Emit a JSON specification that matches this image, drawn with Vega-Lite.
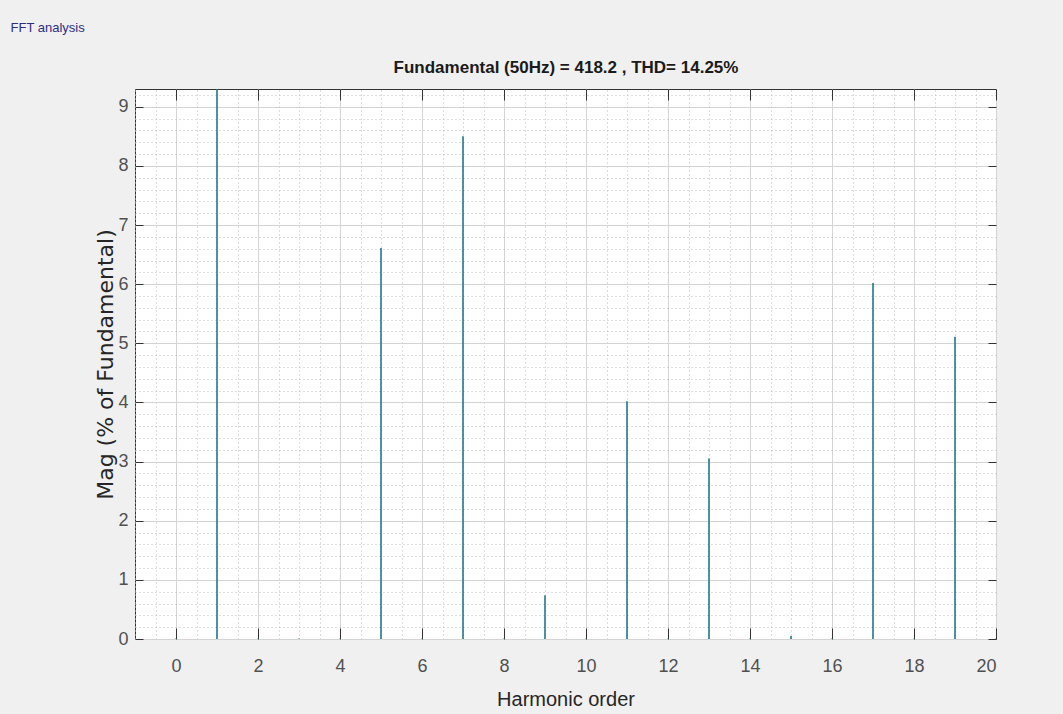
{
  "$schema": "https://vega.github.io/schema/vega-lite/v6.json",
  "width": 861,
  "height": 550,
  "autosize": {"type": "none"},
  "padding": {"left": 135, "top": 89, "right": 67, "bottom": 75},
  "background": "#f0f0f0",
  "config": {
    "view": {"stroke": "#333333", "strokeWidth": 1, "fill": "#ffffff"},
    "axis": {
      "labelFont": "Liberation Sans, Arial",
      "titleFont": "Liberation Sans, Arial",
      "labelColor": "#505050",
      "titleColor": "#262626",
      "titleFontWeight": "normal"
    }
  },
  "data": {
    "values": [
      {"h": 0, "mag": 0.01},
      {"h": 1, "mag": 100},
      {"h": 2, "mag": 0.01},
      {"h": 3, "mag": 0.01},
      {"h": 4, "mag": 0.01},
      {"h": 5, "mag": 6.61},
      {"h": 6, "mag": 0.01},
      {"h": 7, "mag": 8.5},
      {"h": 8, "mag": 0.01},
      {"h": 9, "mag": 0.74},
      {"h": 10, "mag": 0.01},
      {"h": 11, "mag": 4.02},
      {"h": 12, "mag": 0.01},
      {"h": 13, "mag": 3.05},
      {"h": 14, "mag": 0.01},
      {"h": 15, "mag": 0.05},
      {"h": 16, "mag": 0.01},
      {"h": 17, "mag": 6.02},
      {"h": 18, "mag": 0.01},
      {"h": 19, "mag": 5.11},
      {"h": 20, "mag": 0.01}
    ]
  },
  "resolve": {"axis": {"x": "independent", "y": "independent"}},
  "layer": [
    {
      "mark": {"type": "rule", "opacity": 0},
      "encoding": {
        "x": {
          "field": "h", "type": "quantitative",
          "scale": {"domain": [-1, 20], "nice": false, "zero": false},
          "axis": {
            "orient": "top", "values": [-1,-0.5,0,0.5,1,1.5,2,2.5,3,3.5,4,4.5,5,5.5,6,6.5,7,7.5,8,8.5,9,9.5,10,10.5,11,11.5,12,12.5,13,13.5,14,14.5,15,15.5,16,16.5,17,17.5,18,18.5,19,19.5,20],
            "labels": false, "ticks": false, "domain": false,
            "title": "FFT analysis", "titleFontSize": 13, "titleColor": "#2e2e80",
            "titleX": -125, "titleY": -62, "titleAlign": "left", "titleBaseline": "middle", "titleAngle": 0,
            "grid": true, "gridColor": "#bdbdbd", "gridDash": [1, 3], "gridWidth": 1
          }
        },
        "y": {
          "field": "mag", "type": "quantitative",
          "scale": {"domain": [0, 9.3], "nice": false, "zero": true},
          "axis": {
            "orient": "left", "values": [0,0.2,0.4,0.6,0.8,1,1.2,1.4,1.6,1.8,2,2.2,2.4,2.6,2.8,3,3.2,3.4,3.6,3.8,4,4.2,4.4,4.6,4.8,5,5.2,5.4,5.6,5.8,6,6.2,6.4,6.6,6.8,7,7.2,7.4,7.6,7.8,8,8.2,8.4,8.6,8.8,9,9.2],
            "labels": false, "ticks": false, "domain": false, "title": null,
            "grid": true, "gridColor": "#bdbdbd", "gridDash": [1, 3], "gridWidth": 1
          }
        }
      }
    },
    {
      "mark": {"type": "rule", "opacity": 0},
      "encoding": {
        "x": {
          "field": "h", "type": "quantitative",
          "axis": {
            "orient": "top", "values": [0,2,4,6,8,10,12,14,16,18,20],
            "labels": false, "ticks": true, "tickSize": -11, "tickColor": "#333333",
            "domain": false, "grid": false,
            "title": "Fundamental (50Hz) = 418.2 , THD= 14.25%",
            "titleFontSize": 17, "titleFontWeight": "bold", "titleColor": "#1a1a1a",
            "titlePadding": 12
          }
        },
        "y": {
          "field": "mag", "type": "quantitative",
          "axis": {
            "orient": "right", "values": [0,1,2,3,4,5,6,7,8,9],
            "labels": false, "ticks": true, "tickSize": -8, "tickColor": "#333333",
            "domain": false, "title": null, "grid": false
          }
        }
      }
    },
    {
      "mark": {"type": "rule", "color": "#22788a", "strokeWidth": 1.6, "clip": true},
      "encoding": {
        "x": {
          "field": "h", "type": "quantitative",
          "axis": {
            "orient": "bottom", "values": [0,2,4,6,8,10,12,14,16,18,20],
            "labelFontSize": 18, "labelPadding": 29,
            "ticks": true, "tickSize": -11, "tickColor": "#333333",
            "domain": false,
            "grid": true, "gridColor": "#d4d4d4", "gridWidth": 1,
            "title": "Harmonic order", "titleFontSize": 20, "titlePadding": 14
          }
        },
        "y": {
          "field": "mag", "type": "quantitative",
          "axis": {
            "orient": "left", "values": [0,1,2,3,4,5,6,7,8,9],
            "labelFontSize": 18, "labelPadding": 15,
            "ticks": true, "tickSize": -8, "tickColor": "#333333",
            "domain": false,
            "grid": true, "gridColor": "#d4d4d4", "gridWidth": 1,
            "title": "Mag (% of Fundamental)", "titleFont": "DejaVu Sans, Liberation Sans",
            "titleFontSize": 22, "titlePadding": 0
          }
        },
        "y2": {"datum": 0}
      }
    }
  ]
}
